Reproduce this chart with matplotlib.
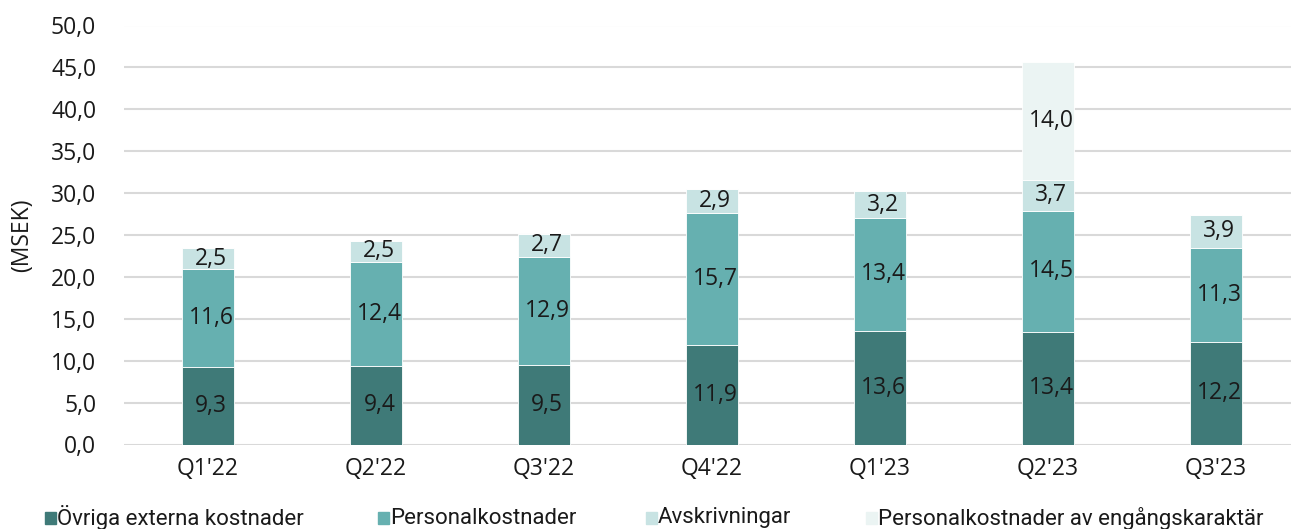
import matplotlib.pyplot as plt
from matplotlib.patches import Rectangle

quarters = ["Q1'22", "Q2'22", "Q3'22", "Q4'22", "Q1'23", "Q2'23", "Q3'23"]
ovriga = [9.3, 9.4, 9.5, 11.9, 13.6, 13.4, 12.2]
personal = [11.6, 12.4, 12.9, 15.7, 13.4, 14.5, 11.3]
avskrivningar = [2.5, 2.5, 2.7, 2.9, 3.2, 3.7, 3.9]
engang = [0, 0, 0, 0, 0, 14.0, 0]

series = [
    ("Övriga externa kostnader", ovriga, "#3F7A78"),
    ("Personalkostnader", personal, "#66B0B0"),
    ("Avskrivningar", avskrivningar, "#C8E3E3"),
    ("Personalkostnader av engångskaraktär", engang, "#EBF4F3"),
]

plt.rcParams['font.family'] = ['Open Sans', 'DejaVu Sans']
fs = 16.5

fig = plt.figure(figsize=(12.91, 5.29), dpi=100)
ax = fig.add_axes([124 / 1291, (529 - 444.5) / 529, 1176 / 1291, 419 / 529])

x = list(range(len(quarters)))
bottom = [0.0] * len(quarters)
for name, vals, col in series:
    ax.bar(x, vals, 0.315, bottom=bottom, color=col, edgecolor='white', linewidth=0.6, zorder=3)
    for i, v in enumerate(vals):
        if v > 0:
            ax.text(i + 0.02, bottom[i] + v / 2, f"{v:.1f}".replace('.', ','),
                    ha='center', va='center', fontsize=fs, color='#1a1a1a', zorder=4)
    bottom = [b + v for b, v in zip(bottom, vals)]

ax.set_xlim(-0.5, 6.5)
ax.set_ylim(0, 50)
ax.set_yticks(range(0, 51, 5))
ax.set_yticklabels([f"{t:.1f}".replace('.', ',') for t in range(0, 51, 5)])
ax.set_xticks(x)
ax.set_xticklabels(quarters)
ax.tick_params(axis='both', length=0, labelsize=fs, colors='#1a1a1a')
ax.tick_params(axis='y', pad=20)
ax.tick_params(axis='x', pad=9)
ax.yaxis.grid(True, color='#D9D9D9', linewidth=1.5, zorder=0)
for s in ax.spines.values():
    s.set_visible(False)
ax.set_ylabel("(MSEK)", fontsize=fs, color='#1a1a1a', labelpad=12)

# legend, placed by hand along the bottom
leg_x = [45, 378, 646, 866]
for (name, vals, col), lx in zip(series, leg_x):
    fig.patches.append(Rectangle((lx / 1291, 5 / 529), 11 / 1291, 12 / 529,
                                 transform=fig.transFigure, color=col))
    fig.text((lx + 12) / 1291, 11 / 529, name, fontsize=16, va='center',
             ha='left', color='#1a1a1a', family=['Liberation Sans Narrow', 'Roboto', 'DejaVu Sans'])

fig.savefig("out.png", dpi=100)
